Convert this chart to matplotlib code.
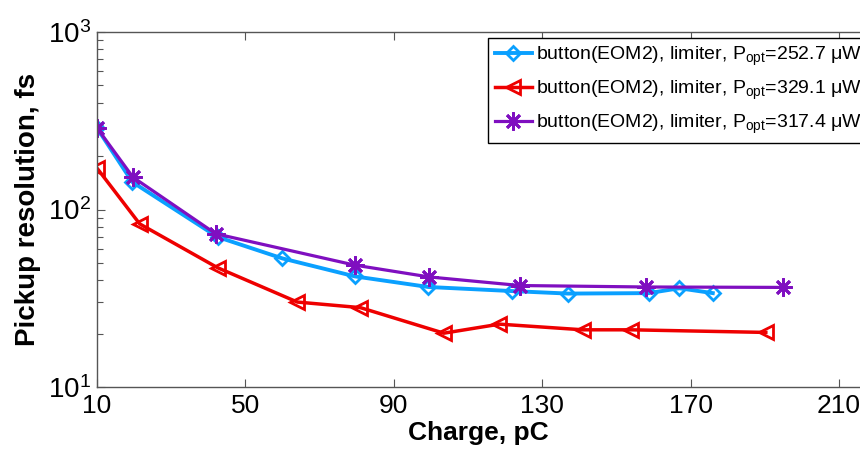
import matplotlib
matplotlib.use("Agg")
import matplotlib.pyplot as plt

plt.rcParams['font.family'] = ['Liberation Sans', 'DejaVu Sans']
plt.rcParams['mathtext.fontset'] = 'custom'
plt.rcParams['mathtext.rm'] = 'Liberation Sans'
plt.rcParams['mathtext.it'] = 'Liberation Sans:italic'
plt.rcParams['mathtext.bf'] = 'Liberation Sans:bold'

# ---- data ----
blue_x = [10, 19.5, 42.5, 60, 79.5, 99.3, 122, 137, 158.7, 167, 176]
blue_y = [288, 143, 70, 53, 42, 36.6, 34.7, 33.6, 33.8, 36.0, 33.8]

red_x = [10, 21.5, 42.5, 64, 81, 103.5, 118.5, 141, 154, 190.3]
red_y = [171, 83, 47, 30.1, 28.0, 20.1, 22.6, 21.0, 21.0, 20.3]

purple_x = [10, 19.7, 42, 79.5, 99.5, 124, 158, 195]
purple_y = [288, 152, 73, 48.6, 41.7, 37.3, 36.6, 36.4]

labels = [r'button(EOM2), limiter, P$_{\mathregular{opt}}$=252.7 μW',
          r'button(EOM2), limiter, P$_{\mathregular{opt}}$=329.1 μW',
          r'button(EOM2), limiter, P$_{\mathregular{opt}}$=317.4 μW']

xticks = [10, 50, 90, 130, 170, 210]

# ---- figure ----
fig = plt.figure(figsize=(8.6, 4.51), dpi=100)
ax = fig.add_axes([97/860, 1-387/451, 779/860, 355/451])

c_blue = '#0AA0FF'
c_red = '#EE0000'
c_purple = '#7F0FC0'

ax.plot(blue_x, blue_y, color=c_blue, lw=2.8, marker='D', ms=7,
        mfc='none', mec=c_blue, mew=2, label=labels[0])
ax.plot(red_x, red_y, color=c_red, lw=2.5, marker='<', ms=10,
        mfc='none', mec=c_red, mew=2, label=labels[1])
ax.plot(purple_x, purple_y, color=c_purple, lw=2.3, marker=(8, 2, 0), ms=13,
        mec=c_purple, mew=2, label=labels[2])

ax.set_yscale('log')
ax.set_ylim(10, 1000)
ax.set_xlim(10, 220)
ax.set_xticks(xticks)
ax.set_xticklabels([str(t) for t in xticks])

spine_c = '#555555'
for s in ax.spines.values():
    s.set_color(spine_c)
    s.set_linewidth(1.0)
ax.tick_params(which='both', direction='in', top=True, right=True,
               colors=spine_c, labelcolor='black')
ax.tick_params(which='major', length=6, width=0.8, labelsize=20, pad=4)
ax.tick_params(axis='x', which='major', pad=5)
ax.tick_params(axis='x', labelsize=19)
ax.tick_params(which='minor', length=4, width=0.8)
ax.tick_params(axis='x', which='minor', bottom=False, top=False)

ax.set_xlabel('Charge, pC', fontsize=19, fontweight='bold')
ax.xaxis.set_label_coords(0.49, -0.097)
ax.set_ylabel('Pickup resolution, fs', fontsize=20, fontweight='bold', labelpad=5)

leg = ax.legend(loc='upper left', bbox_to_anchor=(488/860, 1-38/451),
                bbox_transform=fig.transFigure, fontsize=14,
                frameon=True, fancybox=False, framealpha=1,
                edgecolor='black', borderaxespad=0, borderpad=0.35,
                labelspacing=0.55, handlelength=1.9, handletextpad=0.2)
leg.get_frame().set_linewidth(1.0)

fig.savefig('out.png', dpi=100)
